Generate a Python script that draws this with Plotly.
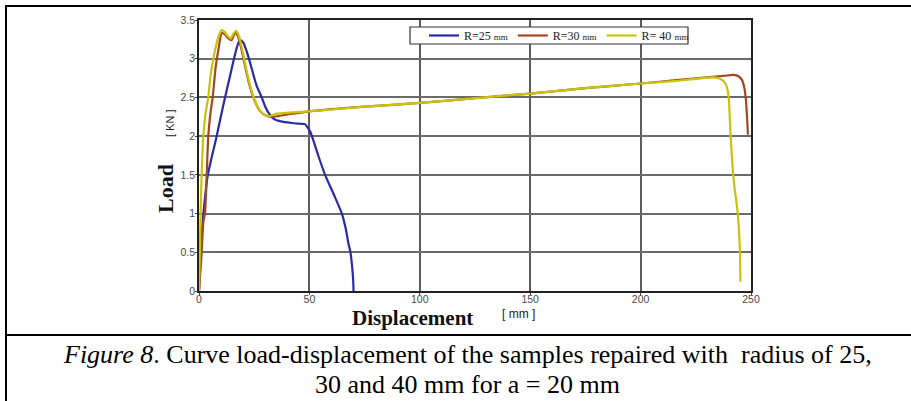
import plotly.graph_objects as go

# ---- data ----
x_r25 = [0, 1.0, 2.0, 4.0, 8.0, 11.0, 14.0, 16.0, 17.5, 18.6, 20.0, 22.0, 24.0, 26.0, 28.4, 30.0,
         32.0, 34.0, 37.0, 42.0, 46.0, 48.0, 49.0, 50.5, 54.0, 57.1, 61.0, 64.7, 66.5, 67.7,
         68.6, 69.3, 69.8, 70.0]
y_r25 = [0, 0.6, 1.0, 1.5, 2.0, 2.4, 2.77, 3.02, 3.18, 3.24, 3.21, 3.06, 2.86, 2.66, 2.5, 2.38,
         2.28, 2.22, 2.19, 2.17, 2.16, 2.155, 2.12, 2.05, 1.75, 1.5, 1.25, 1.0, 0.8, 0.61,
         0.5, 0.33, 0.15, 0.0]

x_r30 = [0, 1.0, 2.0, 2.7, 3.5, 4.2, 5.2, 6.2, 7.5, 8.8, 10.3, 11.5, 13.0, 14.8, 16.3, 17.5,
         19.0, 20.5, 22.5, 24.6, 27.5, 30.0, 33.0, 40.0, 50.0, 75.0, 100.0, 125.0, 150.0,
         175.0, 200.0, 215.0, 230.0, 238.0, 242.0, 244.5, 246.0, 247.0, 247.6, 248.2, 248.6]
y_r30 = [0, 0.4, 0.9, 1.0, 1.5, 2.0, 2.3, 2.5, 2.88, 3.12, 3.33, 3.32, 3.27, 3.24, 3.34, 3.3,
         3.15, 2.95, 2.7, 2.5, 2.33, 2.27, 2.25, 2.28, 2.32, 2.38, 2.43, 2.49, 2.55,
         2.62, 2.68, 2.72, 2.76, 2.78, 2.79, 2.77, 2.72, 2.62, 2.5, 2.25, 2.02]

x_r40 = [0, 0.4, 0.7, 1.2, 1.95, 3.0, 4.2, 5.3, 6.5, 8.0, 9.0, 10.3, 11.5, 13.0, 14.4, 15.5,
         16.8, 18.0, 19.5, 21.0, 23.0, 25.0, 27.5, 30.0, 32.0, 35.0, 50.0, 75.0, 100.0,
         125.0, 150.0, 175.0, 200.0, 215.0, 225.0, 233.0, 236.0, 238.4, 239.5, 240.0,
         240.7, 242.2, 244.0, 245.0, 245.2]
y_r40 = [0, 0.5, 1.0, 1.5, 2.0, 2.3, 2.5, 2.8, 3.0, 3.2, 3.3, 3.37, 3.35, 3.29, 3.26, 3.32,
         3.36, 3.3, 3.13, 2.92, 2.67, 2.48, 2.33, 2.27, 2.26, 2.29, 2.32, 2.38, 2.43,
         2.49, 2.55, 2.62, 2.68, 2.71, 2.74, 2.76, 2.74, 2.68, 2.58, 2.47,
         2.04, 1.42, 1.0, 0.5, 0.12]

series_names = ["R=25 <span style='font-size:9px'>mm</span>",
                "R=30 <span style='font-size:9px'>mm</span>",
                "R= 40 <span style='font-size:9px'>mm</span>"]
series_colors = ["#2a2aa6", "#a3461c", "#c9c30c"]

x_ticks = [0, 50, 100, 150, 200, 250]
y_ticks = [0, 0.5, 1, 1.5, 2, 2.5, 3, 3.5]
y_tick_text = ["0", "0.5", "1", "1.5", "2", "2.5", "3", "3.5"]

# ---- layout geometry (pixels) ----
W, H = 911, 401
L, R, T, B = 199, 160, 20, 110
PW, PH = W - L - R, H - T - B


def px(x):
    return (x - L) / PW


def py(y):
    return (H - B - y) / PH


fig = go.Figure()
for xs, ys, name, col in zip([x_r25, x_r30, x_r40], [y_r25, y_r30, y_r40],
                             series_names, series_colors):
    fig.add_trace(go.Scatter(x=xs, y=ys, mode="lines", name=name,
                             line=dict(color=col, width=2.2, shape="spline", smoothing=0.6)))

tickfont = dict(family="Liberation Sans, Arial", size=10.5, color="#4a4a4a")
fig.update_xaxes(range=[0, 250], tickvals=x_ticks, showgrid=True, gridcolor="#5c5c5c",
                 gridwidth=1.5, showline=True, linecolor="#222222", linewidth=1.5, mirror=True,
                 ticks="outside", ticklen=2, tickcolor="#444444", tickfont=tickfont,
                 zeroline=False, ticklabelstandoff=-4)
fig.update_yaxes(range=[0, 3.5], tickvals=y_ticks, ticktext=y_tick_text, showgrid=True,
                 gridcolor="#6a6a6a", gridwidth=1.5, showline=True, linecolor="#222222",
                 linewidth=1.5, mirror=True, ticks="outside", ticklen=2, tickcolor="#444444",
                 tickfont=tickfont, zeroline=False, ticklabelstandoff=-2)

shapes = [
    # outer frame of the figure cell
    dict(type="line", xref="paper", yref="paper", x0=px(6), x1=px(911), y0=py(6), y1=py(6),
         line=dict(color="black", width=2)),
    dict(type="line", xref="paper", yref="paper", x0=px(6), x1=px(6), y0=py(5), y1=py(401),
         line=dict(color="black", width=2)),
    dict(type="line", xref="paper", yref="paper", x0=px(6), x1=px(911), y0=py(335), y1=py(335),
         line=dict(color="black", width=2)),
    # legend box
    dict(type="rect", xref="paper", yref="paper", x0=px(410), x1=px(688), y0=py(44), y1=py(27),
         line=dict(color="#333333", width=1.2), fillcolor="white", layer="above"),
]

serif = "Liberation Serif, Times New Roman, serif"
sans = "Liberation Sans, Arial, sans-serif"


def ann(text, x, y, font, angle=0):
    return dict(text=text, x=px(x), y=py(y), xref="paper", yref="paper", textangle=angle,
                xanchor="center", yanchor="middle", showarrow=False, font=font)


annotations = [
    ann("<b>Load</b>", 165, 189, dict(family=serif, size=22, color="#111111"), -90),
    ann("[ KN ]", 170, 123, dict(family=sans, size=11, color="#222222"), -90),
    ann("<b>Displacement</b>", 412, 318, dict(family=serif, size=21, color="#111111")),
    ann("[ mm ]", 518, 314, dict(family=sans, size=12, color="#222222")),
    ann("<i>Figure 8</i>. Curve load-displacement of the samples repaired with  radius of 25,",
        467, 354, dict(family=serif, size=26, color="black")),
    ann("30 and 40 mm for a = 20 mm", 467, 384, dict(family=serif, size=26, color="black")),
]

fig.update_layout(
    width=W, height=H, margin=dict(l=L, r=R, t=T, b=B, pad=0),
    paper_bgcolor="white", plot_bgcolor="white",
    shapes=shapes, annotations=annotations,
    legend=dict(orientation="h", x=px(424), y=py(35.5), xanchor="left", yanchor="middle",
                bgcolor="rgba(0,0,0,0)", borderwidth=0, itemwidth=30,
                font=dict(family=serif, size=12, color="#222222"), tracegroupgap=0),
    showlegend=True,
)

fig.write_html("out.html")
